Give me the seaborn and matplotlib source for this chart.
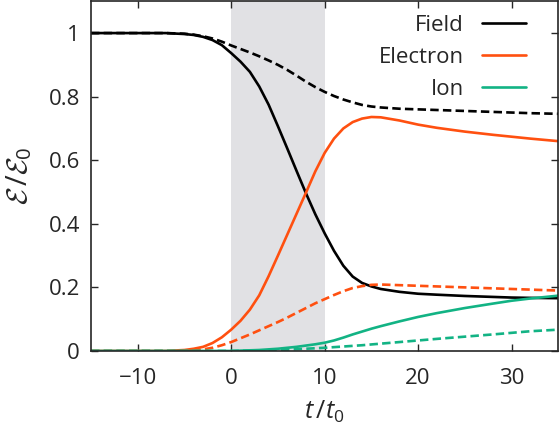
import pandas as pd
import seaborn as sns
import matplotlib.pyplot as plt
from matplotlib.lines import Line2D
from matplotlib.ticker import FuncFormatter

# time axis (t / t0)
t = [-15, -10, -7, -5, -4, -3, -2, -1, 0, 1, 2, 3, 4, 5, 6, 7, 8, 9, 10,
     11, 12, 13, 14, 15, 16, 18, 20, 22, 25, 28, 30, 32, 35]

# solid curves
field = [1, 1, 1, 0.997, 0.994, 0.988, 0.978, 0.962, 0.937, 0.91, 0.878, 0.832,
         0.775, 0.707, 0.637, 0.566, 0.496, 0.43, 0.37, 0.315, 0.268, 0.234,
         0.214, 0.203, 0.195, 0.186, 0.18, 0.177, 0.173, 0.17, 0.168, 0.167, 0.166]
electron = [0, 0, 0, 0.003, 0.007, 0.013, 0.025, 0.043, 0.067, 0.095, 0.13,
            0.175, 0.235, 0.3, 0.366, 0.432, 0.498, 0.565, 0.623, 0.668, 0.7,
            0.72, 0.731, 0.736, 0.735, 0.725, 0.712, 0.702, 0.69, 0.68,
            0.674, 0.668, 0.66]
ion = [0, 0, 0, 0, 0, 0, 0, 0, 0, 0.001, 0.002, 0.003, 0.005, 0.007, 0.01,
       0.013, 0.017, 0.021, 0.026, 0.033, 0.042, 0.052, 0.061, 0.07, 0.078,
       0.093, 0.107, 0.119, 0.135, 0.149, 0.158, 0.165, 0.174]

# dashed curves
field_d = [1, 1, 1, 0.998, 0.995, 0.99, 0.983, 0.973, 0.961, 0.95, 0.939,
           0.927, 0.914, 0.9, 0.884, 0.866, 0.847, 0.83, 0.815, 0.802, 0.791,
           0.782, 0.774, 0.769, 0.766, 0.762, 0.76, 0.758, 0.755, 0.752,
           0.75, 0.748, 0.746]
electron_d = [0, 0, 0, 0, 0.002, 0.005, 0.01, 0.018, 0.028, 0.04, 0.052,
              0.065, 0.078, 0.091, 0.105, 0.12, 0.135, 0.15, 0.163, 0.176,
              0.188, 0.198, 0.204, 0.208, 0.209, 0.207, 0.205, 0.203, 0.2,
              0.197, 0.195, 0.193, 0.19]
ion_d = [0, 0, 0, 0, 0, 0, 0, 0, 0, 0.0005, 0.001, 0.0015, 0.002, 0.003,
         0.004, 0.0055, 0.007, 0.0085, 0.01, 0.012, 0.014, 0.016, 0.018,
         0.0205, 0.023, 0.028, 0.033, 0.038, 0.045, 0.052, 0.057, 0.062, 0.067]

species = ["Field", "Electron", "Ion"]
colors = {"Field": "black", "Electron": "#ff5010", "Ion": "#12b384"}

rows = []
for name, solid, dashed in [("Field", field, field_d),
                            ("Electron", electron, electron_d),
                            ("Ion", ion, ion_d)]:
    for ti, v in zip(t, solid):
        rows.append((ti, v, name, "total"))
    for ti, v in zip(t, dashed):
        rows.append((ti, v, name, "part"))
df = pd.DataFrame(rows, columns=["t", "energy", "species", "kind"])

sns.set_style("ticks")
plt.rcParams['font.family'] = ['Open Sans', 'DejaVu Sans']
plt.rcParams['mathtext.fontset'] = 'custom'
plt.rcParams['mathtext.rm'] = 'Open Sans'
plt.rcParams['mathtext.it'] = 'Open Sans:italic'
plt.rcParams['mathtext.cal'] = 'cmsy10'

fig, ax = plt.subplots(figsize=(5.6, 4.28), dpi=100)
fig.subplots_adjust(left=0.1625, right=0.997, bottom=0.18, top=0.997)

# pulse window
ax.axvspan(0, 10, color="#e1e1e4", lw=0, zorder=0)

sns.lineplot(data=df, x="t", y="energy", hue="species", style="kind",
             palette=colors, dashes={"total": "", "part": (3.2, 1.6)},
             hue_order=species, style_order=["total", "part"],
             linewidth=1.9, legend=False, ax=ax)

ax.set_xlim(-15, 35)
ax.set_ylim(0, 1.1)
ax.set_xticks([-10, 0, 10, 20, 30])
ax.set_yticks([0, 0.2, 0.4, 0.6, 0.8, 1.0])
ax.yaxis.set_major_formatter(FuncFormatter(lambda v, p: f"{v:g}"))
ax.xaxis.set_major_formatter(FuncFormatter(lambda v, p: f"{v:g}".replace("-", "\u2212")))
ax.tick_params(direction="in", length=5, width=1, labelsize=16,
               top=True, right=True)
ax.tick_params(axis="y", pad=8)
ax.tick_params(axis="x", pad=12)
for s in ax.spines.values():
    s.set_linewidth(1.2)

ax.set_xlabel(r"$t\,/t_0$", fontsize=18, labelpad=7)
ax.set_ylabel(r"$\mathcal{E}\,/\mathcal{E}_0$", fontsize=21, labelpad=10)

handles = [Line2D([], [], color=colors[s], lw=1.9) for s in species]
ax.legend(handles, species, loc="upper right", frameon=False, fontsize=16,
          markerfirst=False, handlelength=2.0, borderaxespad=0.2,
          labelspacing=0.5, handletextpad=0.8, bbox_to_anchor=(0.96, 1.0))

plt.savefig("out.png", dpi=100)
